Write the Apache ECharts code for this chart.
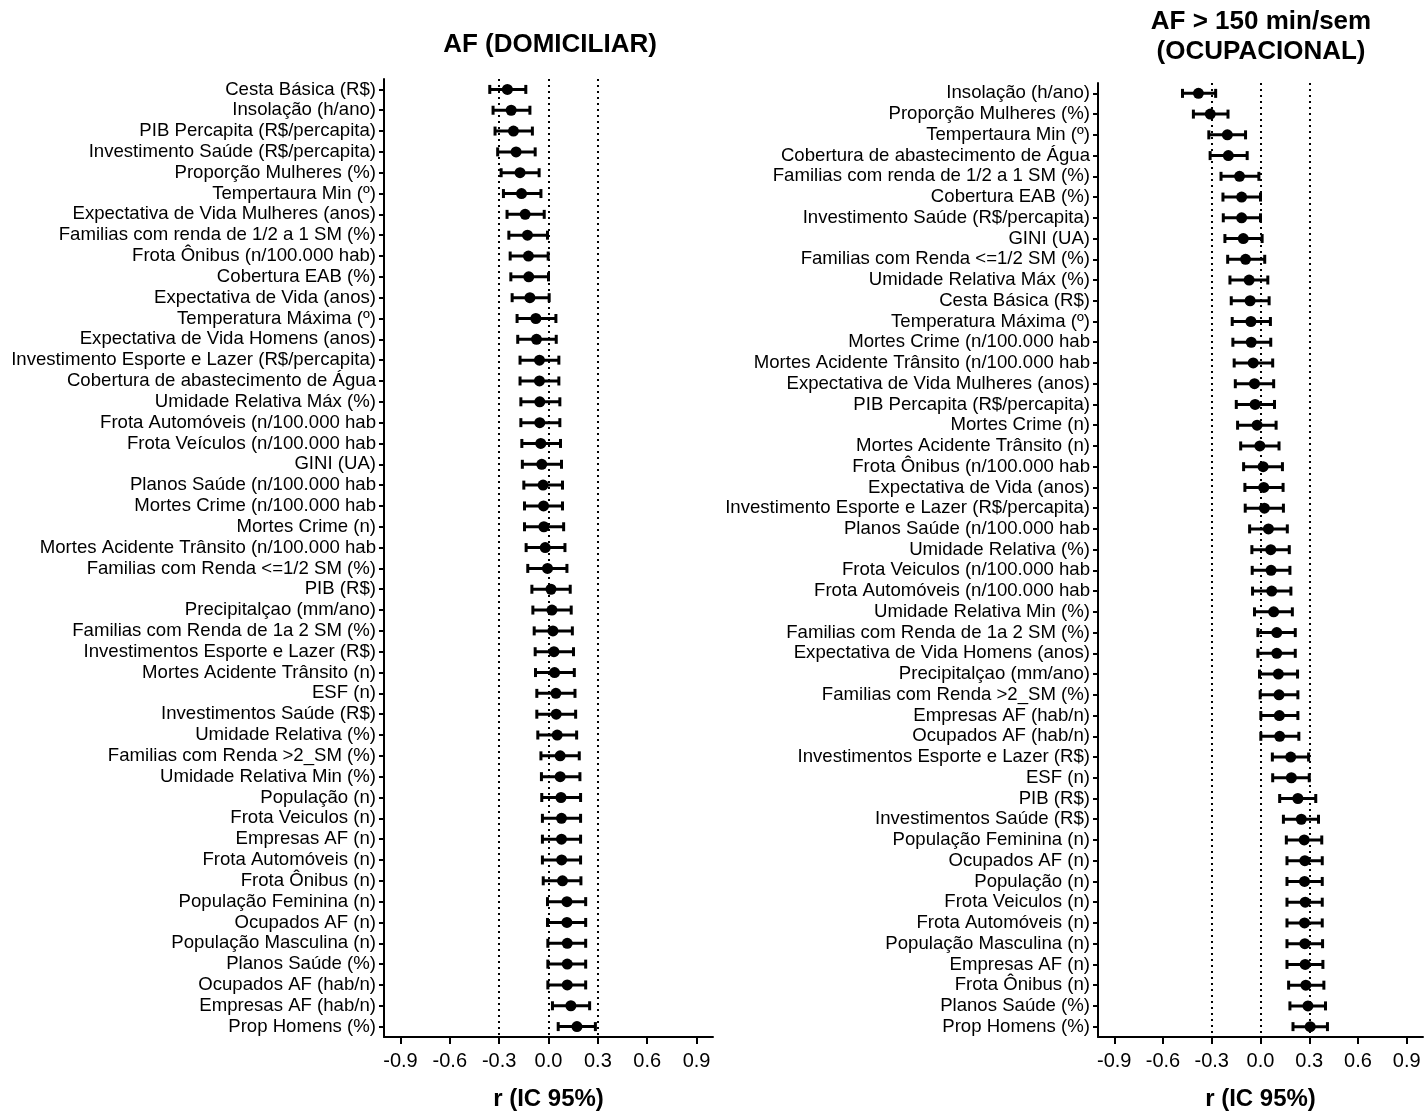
<!DOCTYPE html>
<html>
<head>
<meta charset="utf-8">
<script src="https://cdn.jsdelivr.net/npm/echarts@6/dist/echarts.min.js"></script>
<style>
html,body{margin:0;padding:0;background:#fff;}
#chart{width:1426px;height:1120px;}
</style>
</head>
<body>
<div id="chart"></div>
<script>
// ---------- DATA ----------
var xTicks = [-0.9, -0.6, -0.3, 0.0, 0.3, 0.6, 0.9];
var refLines = [-0.3, 0.0, 0.3];

var titleLeft = 'AF (DOMICILIAR)';
var titleRight = ['AF > 150 min/sem', '(OCUPACIONAL)'];
var axisTitle = 'r (IC 95%)';

var labelsLeft = [
  'Cesta Básica (R$)', 'Insolação (h/ano)', 'PIB Percapita (R$/percapita)', 'Investimento Saúde (R$/percapita)',
  'Proporção Mulheres (%)', 'Tempertaura Min (º)', 'Expectativa de Vida Mulheres (anos)',
  'Familias com renda de 1/2 a 1 SM (%)', 'Frota Ônibus (n/100.000 hab)', 'Cobertura EAB (%)',
  'Expectativa de Vida (anos)', 'Temperatura Máxima (º)', 'Expectativa de Vida Homens (anos)',
  'Investimento Esporte e Lazer (R$/percapita)', 'Cobertura de abastecimento de Água', 'Umidade Relativa Máx (%)',
  'Frota Automóveis (n/100.000 hab', 'Frota Veículos (n/100.000 hab', 'GINI (UA)', 'Planos Saúde (n/100.000 hab',
  'Mortes Crime (n/100.000 hab', 'Mortes Crime (n)', 'Mortes Acidente Trânsito (n/100.000 hab',
  'Familias com Renda <=1/2 SM (%)', 'PIB (R$)', 'Precipitalçao (mm/ano)', 'Familias com Renda de 1a 2 SM (%)',
  'Investimentos Esporte e Lazer (R$)', 'Mortes Acidente Trânsito (n)', 'ESF (n)', 'Investimentos Saúde (R$)',
  'Umidade Relativa (%)', 'Familias com Renda >2_SM (%)', 'Umidade Relativa Min (%)', 'População (n)',
  'Frota Veiculos (n)', 'Empresas AF (n)', 'Frota Automóveis (n)', 'Frota Ônibus (n)', 'População Feminina (n)',
  'Ocupados AF (n)', 'População Masculina (n)', 'Planos Saúde (%)', 'Ocupados AF (hab/n)', 'Empresas AF (hab/n)',
  'Prop Homens (%)'
];
var estLeft = [
  -0.250, -0.227, -0.213, -0.197, -0.173, -0.164, -0.142, -0.128, -0.122, -0.120,
  -0.113, -0.077, -0.073, -0.055, -0.055, -0.053, -0.053, -0.047, -0.041, -0.033,
  -0.030, -0.028, -0.020, -0.006, 0.015, 0.021, 0.027, 0.033, 0.037, 0.045,
  0.047, 0.053, 0.071, 0.071, 0.076, 0.079, 0.079, 0.080, 0.085, 0.112,
  0.112, 0.114, 0.114, 0.114, 0.136, 0.173
];
var loLeft = [
  -0.357, -0.337, -0.325, -0.309, -0.288, -0.274, -0.252, -0.241, -0.233, -0.229,
  -0.221, -0.191, -0.187, -0.173, -0.173, -0.168, -0.168, -0.162, -0.159, -0.150,
  -0.146, -0.146, -0.136, -0.126, -0.101, -0.095, -0.087, -0.081, -0.079, -0.071,
  -0.071, -0.065, -0.046, -0.043, -0.041, -0.037, -0.037, -0.037, -0.032, -0.006,
  -0.006, -0.004, -0.004, -0.004, 0.024, 0.059
];
var hiLeft = [
  -0.138, -0.113, -0.098, -0.081, -0.057, -0.046, -0.026, -0.006, -0.002, 0.000,
  0.004, 0.045, 0.047, 0.063, 0.063, 0.069, 0.069, 0.073, 0.079, 0.085,
  0.085, 0.092, 0.100, 0.112, 0.132, 0.138, 0.145, 0.152, 0.157, 0.161,
  0.165, 0.171, 0.187, 0.191, 0.195, 0.195, 0.195, 0.195, 0.197, 0.226,
  0.226, 0.226, 0.226, 0.226, 0.250, 0.285
];

var labelsRight = [
  'Insolação (h/ano)', 'Proporção Mulheres (%)', 'Tempertaura Min (º)', 'Cobertura de abastecimento de Água',
  'Familias com renda de 1/2 a 1 SM (%)', 'Cobertura EAB (%)', 'Investimento Saúde (R$/percapita)', 'GINI (UA)',
  'Familias com Renda <=1/2 SM (%)', 'Umidade Relativa Máx (%)', 'Cesta Básica (R$)', 'Temperatura Máxima (º)',
  'Mortes Crime (n/100.000 hab', 'Mortes Acidente Trânsito (n/100.000 hab', 'Expectativa de Vida Mulheres (anos)',
  'PIB Percapita (R$/percapita)', 'Mortes Crime (n)', 'Mortes Acidente Trânsito (n)', 'Frota Ônibus (n/100.000 hab',
  'Expectativa de Vida (anos)', 'Investimento Esporte e Lazer (R$/percapita)', 'Planos Saúde (n/100.000 hab',
  'Umidade Relativa (%)', 'Frota Veiculos (n/100.000 hab', 'Frota Automóveis (n/100.000 hab',
  'Umidade Relativa Min (%)', 'Familias com Renda de 1a 2 SM (%)', 'Expectativa de Vida Homens (anos)',
  'Precipitalçao (mm/ano)', 'Familias com Renda >2_SM (%)', 'Empresas AF (hab/n)', 'Ocupados AF (hab/n)',
  'Investimentos Esporte e Lazer (R$)', 'ESF (n)', 'PIB (R$)', 'Investimentos Saúde (R$)', 'População Feminina (n)',
  'Ocupados AF (n)', 'População (n)', 'Frota Veiculos (n)', 'Frota Automóveis (n)', 'População Masculina (n)',
  'Empresas AF (n)', 'Frota Ônibus (n)', 'Planos Saúde (%)', 'Prop Homens (%)'
];
var estRight = [
  -0.382, -0.309, -0.204, -0.198, -0.129, -0.116, -0.116, -0.106, -0.092, -0.070,
  -0.064, -0.059, -0.057, -0.045, -0.037, -0.033, -0.021, -0.004, 0.016, 0.020,
  0.024, 0.049, 0.063, 0.065, 0.069, 0.081, 0.100, 0.100, 0.110, 0.114,
  0.116, 0.118, 0.186, 0.190, 0.230, 0.251, 0.269, 0.273, 0.271, 0.275,
  0.271, 0.273, 0.275, 0.279, 0.292, 0.306
];
var loRight = [
  -0.480, -0.413, -0.318, -0.310, -0.243, -0.231, -0.229, -0.219, -0.202, -0.188,
  -0.180, -0.174, -0.170, -0.162, -0.155, -0.149, -0.141, -0.122, -0.104, -0.096,
  -0.094, -0.067, -0.053, -0.051, -0.049, -0.037, -0.016, -0.016, -0.006, -0.002,
  0.002, 0.002, 0.073, 0.075, 0.118, 0.141, 0.159, 0.163, 0.163, 0.163,
  0.163, 0.163, 0.163, 0.173, 0.181, 0.200
];
var hiRight = [
  -0.276, -0.200, -0.092, -0.082, -0.010, 0.000, 0.000, 0.010, 0.026, 0.045,
  0.053, 0.061, 0.063, 0.075, 0.081, 0.086, 0.096, 0.114, 0.135, 0.139,
  0.141, 0.165, 0.177, 0.181, 0.187, 0.196, 0.214, 0.214, 0.228, 0.230,
  0.230, 0.236, 0.296, 0.300, 0.340, 0.357, 0.377, 0.380, 0.380, 0.380,
  0.380, 0.382, 0.384, 0.390, 0.400, 0.412
];

// ---------- CHART ----------
var FONT = '"Liberation Sans", Arial, sans-serif';

function errData(lo, hi, est) {
  return lo.map(function (v, i) { return [v, hi[i], est[i], i]; });
}
function dotData(est) {
  return est.map(function (v, i) { return [v, i]; });
}
function indexList(labels) {
  return labels.map(function (_, i) { return i; });
}
function renderErr(params, api) {
  var lo = api.coord([api.value(0), api.value(3)]);
  var hi = api.coord([api.value(1), api.value(3)]);
  var h = 4.5;
  var st = { stroke: '#000', lineWidth: 3 };
  return {
    type: 'group',
    children: [
      { type: 'line', shape: { x1: lo[0], y1: lo[1], x2: hi[0], y2: hi[1] }, style: st },
      { type: 'line', shape: { x1: lo[0], y1: lo[1] - h, x2: lo[0], y2: lo[1] + h }, style: st },
      { type: 'line', shape: { x1: hi[0], y1: hi[1] - h, x2: hi[0], y2: hi[1] + h }, style: st }
    ]
  };
}

function xAxisCfg(gi) {
  return {
    type: 'value', gridIndex: gi, min: -1, max: 1,
    name: axisTitle, nameLocation: 'middle', nameGap: 50,
    nameTextStyle: { fontFamily: FONT, fontWeight: 'bold', fontSize: 24, color: '#000' },
    axisLine: { show: true, onZero: false, lineStyle: { color: '#000', width: 2 } },
    axisTick: { show: true, length: 7, lineStyle: { color: '#000', width: 2 }, customValues: xTicks },
    axisLabel: { fontFamily: FONT, fontSize: 20, color: '#000', margin: 14, customValues: xTicks,
      formatter: function (v) { return (Math.abs(v) < 1e-9 ? 0 : v).toFixed(1); } },
    splitLine: { show: false }
  };
}
function yAxisCfg(gi, labels) {
  var idx = indexList(labels);
  return {
    type: 'value', gridIndex: gi, inverse: true, min: -0.5, max: labels.length - 0.5,
    axisLine: { show: true, onZero: false, lineStyle: { color: '#000', width: 2 } },
    axisTick: { show: true, length: 5, lineStyle: { color: '#000', width: 2 }, customValues: idx },
    axisLabel: { fontFamily: FONT, fontSize: 18.6, color: '#000', margin: 8, customValues: idx,
      formatter: function (v) { return labels[Math.round(v)] || ''; } },
    splitLine: { show: false }
  };
}
function markLineCfg() {
  return {
    silent: true, symbol: 'none', animation: false,
    label: { show: false },
    lineStyle: { color: '#000', width: 2, type: [2, 4] },
    data: refLines.map(function (v) { return { xAxis: v }; })
  };
}

var chart = echarts.init(document.getElementById('chart'), null, { renderer: 'canvas' });
chart.setOption({
  animation: false,
  backgroundColor: '#fff',
  graphic: [
    { type: 'text', x: 550, y: 45, style: { text: titleLeft, fontFamily: FONT, fontWeight: 'bold', fontSize: 26, fill: '#000', textAlign: 'center', textVerticalAlign: 'middle' } },
    { type: 'text', x: 1261, y: 22, style: { text: titleRight[0], fontFamily: FONT, fontWeight: 'bold', fontSize: 26, fill: '#000', textAlign: 'center', textVerticalAlign: 'middle' } },
    { type: 'text', x: 1261, y: 52, style: { text: titleRight[1], fontFamily: FONT, fontWeight: 'bold', fontSize: 26, fill: '#000', textAlign: 'center', textVerticalAlign: 'middle' } }
  ],
  grid: [
    { left: 384, width: 329, top: 79, height: 958, outerBoundsMode: 'none', containLabel: false },
    { left: 1098, width: 325, top: 83, height: 954, outerBoundsMode: 'none', containLabel: false }
  ],
  xAxis: [xAxisCfg(0), xAxisCfg(1)],
  yAxis: [yAxisCfg(0, labelsLeft), yAxisCfg(1, labelsRight)],
  series: [
    { type: 'custom', xAxisIndex: 0, yAxisIndex: 0, renderItem: renderErr, data: errData(loLeft, hiLeft, estLeft),
      encode: { x: [0, 1], y: 3 }, markLine: markLineCfg(), z: 3 },
    { type: 'scatter', xAxisIndex: 0, yAxisIndex: 0, data: dotData(estLeft), symbolSize: 11,
      itemStyle: { color: '#000', opacity: 1 }, z: 4 },
    { type: 'custom', xAxisIndex: 1, yAxisIndex: 1, renderItem: renderErr, data: errData(loRight, hiRight, estRight),
      encode: { x: [0, 1], y: 3 }, markLine: markLineCfg(), z: 3 },
    { type: 'scatter', xAxisIndex: 1, yAxisIndex: 1, data: dotData(estRight), symbolSize: 11,
      itemStyle: { color: '#000', opacity: 1 }, z: 4 }
  ]
});
</script>
</body>
</html>
